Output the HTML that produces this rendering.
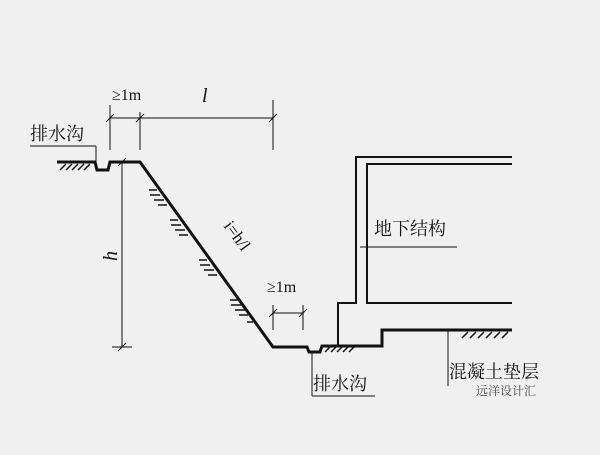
<!DOCTYPE html>
<html><head><meta charset="utf-8"><style>body{margin:0;background:#f0f0f0}</style></head><body>
<svg width="600" height="450" viewBox="0 0 600 450" xmlns="http://www.w3.org/2000/svg" font-family="Liberation Serif, Noto Serif CJK SC, serif">
<rect width="600" height="450" fill="#f0f0f0"/>
<g fill="none" stroke="#111">
<polyline stroke-width="3" points="57,162 95,162 97,170 108,170 110,162 140,162 273,347 307,347 309,352 320,352 322,346 382,346 382,330 512,330"/>
<polyline stroke-width="2" points="338,345 338,303 356,303 356,157 512,157"/>
<polyline stroke-width="2" points="512,164 367,164 367,303 512,303"/>
<g stroke-width="1">
<line x1="110" y1="118" x2="273" y2="118"/>
<line x1="110" y1="105" x2="110" y2="150"/><line x1="140" y1="112" x2="140" y2="150"/><line x1="273" y1="100" x2="273" y2="150"/>
<line x1="106" y1="122" x2="114" y2="114"/><line x1="136" y1="122" x2="144" y2="114"/><line x1="269" y1="122" x2="277" y2="114"/>
<line x1="122" y1="162" x2="122" y2="347"/><line x1="112" y1="347" x2="132" y2="347"/>
<line x1="118" y1="351" x2="126" y2="343"/><line x1="118" y1="166" x2="126" y2="158"/>
<line x1="273" y1="313" x2="303" y2="313"/><line x1="273" y1="305" x2="273" y2="330"/><line x1="303" y1="305" x2="303" y2="330"/>
<line x1="269" y1="317" x2="277" y2="309"/><line x1="299" y1="317" x2="307" y2="309"/>
<line x1="30" y1="146" x2="96" y2="146"/><line x1="96" y1="146" x2="96" y2="162"/>
<line x1="312" y1="352" x2="312" y2="396"/><line x1="312" y1="396" x2="375" y2="396"/>
<line x1="360" y1="247" x2="457" y2="247"/>
<line x1="448" y1="330" x2="448" y2="386"/>
</g>
<g stroke-width="1.5">
<path d="M60,170l6,-6M66,170l6,-6M72,170l6,-6M78,170l6,-6M84,170l6,-6"/>
<path d="M157,190h-8M160,195h-10M164,200h-10M167,205h-9M178,220h-8M181,225h-10M185,230h-10M188,235h-9M207,260h-8M210,265h-10M214,270h-10M217,275h-9M238,300h-8M241,305h-10M245,310h-10M248,315h-9M253,322h-6"/>
<path d="M325,352l6,-6M331,352l6,-6M337,352l6,-6M343,352l6,-6M349,352l6,-6"/>
<path d="M462,338l6,-6M470,338l6,-6M478,338l6,-6M486,338l6,-6M494,338l6,-6M502,338l6,-6"/>
</g>
</g>
<g fill="#111" font-size="18">
<text x="30" y="140">排水沟</text>
<text x="313" y="390">排水沟</text>
<text x="374" y="235">地下结构</text>
<text x="449" y="378">混凝土垫层</text>
<text x="112" y="100" font-size="16">≥1m</text>
<text x="267" y="292" font-size="16">≥1m</text>
<text x="202" y="102" font-style="italic" font-size="20">l</text>
<text x="106" y="260" font-style="italic" font-size="20" transform="rotate(-90 112 255)">h</text>
<text x="215" y="232" font-size="17" transform="rotate(54 225 237)">i=h/l</text>
<text x="476" y="395" font-size="12" fill="#444">远洋设计汇</text>
</g>
</svg>
</body></html>
